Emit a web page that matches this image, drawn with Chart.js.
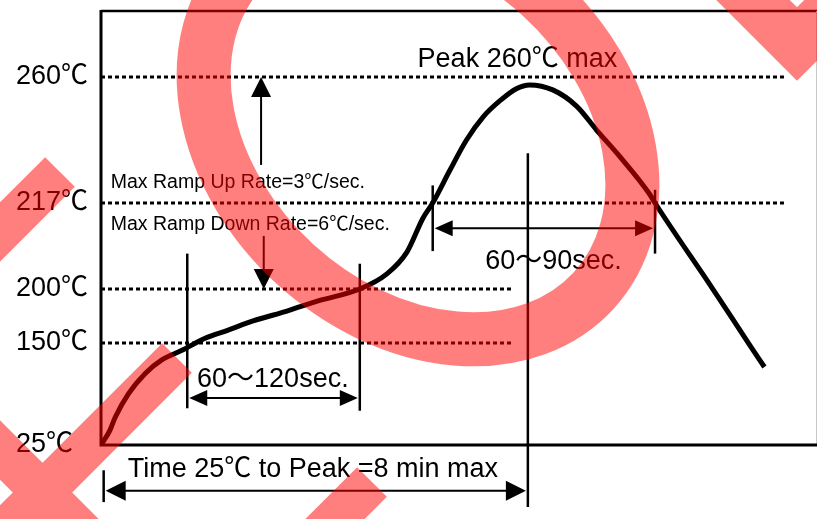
<!DOCTYPE html>
<html>
<head>
<meta charset="utf-8">
<script src="https://cdn.jsdelivr.net/npm/chart.js@4.4.1/dist/chart.umd.min.js"></script>
<style>
  html, body { margin: 0; padding: 0; background: #fff; }
</style>
</head>
<body>
<canvas id="profile" width="817" height="519"></canvas>
<script>
// reflow profile: time in seconds (schematic), temperature in deg C
const profileTime = [0, 10, 16, 31, 50, 68, 91, 117, 143, 171, 209, 246, 291, 321.5, 344, 362, 373, 392, 411, 430, 449, 467, 482, 508, 535, 557, 583, 617, 623, 688, 728, 746];
const profileTemp = [25, 43, 59, 88, 113, 129, 141, 154.4, 162, 170.4, 179.6, 189.4, 200, 203, 207.3, 214, 217, 228, 238.5, 246.5, 252, 256, 257.3, 255.6, 250, 242, 233, 220, 217, 200, 150, 120.6];

const tempTicks = [25, 150, 200, 217, 260];

// dotted reference levels and where they stop
const refTemps = [260, 217, 200, 150];
const refEnds = [768, 768, 463, 463];

// vertical marker lines
const markerTimes = [3, 97, 291, 373, 480, 623];
const markerLow = [-45, 70, 67, 207.5, -51, 207];
const markerHigh = [-6, 207, 205, 223, 234, 221.5];

// double headed span arrows
const spanFrom = [97, 373, 3];
const spanTo = [291, 623, 480];
const spanTemp = [82.6, 212, -31];

// ramp rate arrows (up / down)
const rateTimes = [180, 183];
const rateFrom = [230, 210.5];
const rateTo = [260, 200];

const noteTexts = ['Peak 260℃ max', 'Max Ramp Up Rate=3℃/sec.', 'Max Ramp Down Rate=6℃/sec.', '60～120sec.', '60～90sec.', 'Time 25℃ to Peak =8 min max'];
const noteTimes = [356, 11, 11, 108, 432, 30];
const noteTemps = [266, 224, 212.7, 104.7, 205.5, -5.6];
const noteSizes = [27, 19.5, 19.5, 27, 27, 27];

const FONT = '"Liberation Sans", Arial, "Noto Sans CJK SC", sans-serif';

// y axis of the drawing is not linear, so map through knots (value -> fraction of height)
class PiecewiseScale extends Chart.LinearScale {
    static id = 'piecewise';
    static defaults = Chart.LinearScale.defaults;

    getPixelForValue(value) {
        const k = this.options.knots;
        let i = 0;
        while (i < k.length - 2 && value > k[i + 1][0]) i++;
        const [v0, f0] = k[i];
        const [v1, f1] = k[i + 1];
        const f = f0 + (value - v0) / (v1 - v0) * (f1 - f0);
        return this.bottom - f * (this.bottom - this.top);
    }

    getValueForPixel(pixel) {
        const k = this.options.knots;
        const f = (this.bottom - pixel) / (this.bottom - this.top);
        let i = 0;
        while (i < k.length - 2 && f > k[i + 1][1]) i++;
        const [v0, f0] = k[i];
        const [v1, f1] = k[i + 1];
        return v0 + (f - f0) / (f1 - f0) * (v1 - v0);
    }
}
Chart.register(PiecewiseScale);

function arrowHead(ctx, x, y, dx, dy, len, half) {
    ctx.beginPath();
    ctx.moveTo(x, y);
    ctx.lineTo(x - dx * len - dy * half, y - dy * len + dx * half);
    ctx.lineTo(x - dx * len + dy * half, y - dy * len - dx * half);
    ctx.closePath();
    ctx.fill();
}

const annotations = {
    id: 'annotations',
    beforeDatasetsDraw(chart) {
        const { ctx, chartArea: a } = chart;
        ctx.save();
        ctx.strokeStyle = '#000';
        ctx.lineCap = 'butt';
        // top edge
        ctx.lineWidth = 2.5;
        ctx.beginPath(); ctx.moveTo(a.left, a.top); ctx.lineTo(chart.width, a.top); ctx.stroke();
        // right edge
        ctx.strokeStyle = '#c8c8c8';
        ctx.lineWidth = 1;
        ctx.beginPath(); ctx.moveTo(a.right + 0.5, a.top); ctx.lineTo(a.right + 0.5, a.bottom); ctx.stroke();
        ctx.restore();
    },
    afterDatasetsDraw(chart) {
        const { ctx, chartArea: a } = chart;
        const xs = chart.scales.x, ys = chart.scales.y;
        ctx.save();
        ctx.strokeStyle = '#000';
        ctx.fillStyle = '#000';
        // left and bottom axis lines
        ctx.lineWidth = 3;
        ctx.beginPath();
        ctx.moveTo(a.left, a.top - 1);
        ctx.lineTo(a.left, a.bottom);
        ctx.lineTo(chart.width, a.bottom);
        ctx.stroke();

        ctx.lineWidth = 2.5;
        markerTimes.forEach((t, i) => {
            const x = xs.getPixelForValue(t);
            ctx.beginPath();
            ctx.moveTo(x, ys.getPixelForValue(markerHigh[i]));
            ctx.lineTo(x, ys.getPixelForValue(markerLow[i]));
            ctx.stroke();
        });

        ctx.lineWidth = 2;
        spanFrom.forEach((t, i) => {
            const x1 = xs.getPixelForValue(t) + 2;
            const x2 = xs.getPixelForValue(spanTo[i]) - 2;
            const y = ys.getPixelForValue(spanTemp[i]);
            const len = i === 2 ? 20 : 18, half = i === 2 ? 10 : 8;
            ctx.beginPath(); ctx.moveTo(x1 + 5, y); ctx.lineTo(x2 - 5, y); ctx.stroke();
            arrowHead(ctx, x1, y, -1, 0, len, half);
            arrowHead(ctx, x2, y, 1, 0, len, half);
        });

        rateTimes.forEach((t, i) => {
            const x = xs.getPixelForValue(t);
            const y1 = ys.getPixelForValue(rateFrom[i]);
            const y2 = ys.getPixelForValue(rateTo[i]);
            const dir = y2 < y1 ? -1 : 1;
            ctx.beginPath(); ctx.moveTo(x, y1); ctx.lineTo(x, y2 - dir * 5); ctx.stroke();
            arrowHead(ctx, x, y2, 0, dir, 20, 10);
        });

        ctx.textAlign = 'left';
        ctx.textBaseline = 'middle';
        noteTexts.forEach((txt, i) => {
            ctx.font = noteSizes[i] + 'px ' + FONT;
            ctx.fillText(txt, xs.getPixelForValue(noteTimes[i]), ys.getPixelForValue(noteTemps[i]));
        });
        ctx.restore();
    },
    afterDraw(chart) {
        // red stamp overlay sitting on top of the drawing
        const ctx = chart.ctx;
        ctx.save();
        ctx.strokeStyle = 'rgba(255, 0, 0, 0.5)';
        ctx.lineCap = 'butt';
        ctx.lineJoin = 'miter';
        ctx.lineWidth = 54;
        ctx.beginPath();
        ctx.ellipse(418, 130, 238, 182, 0.74, 0, Math.PI * 2);
        ctx.stroke();

        ctx.lineWidth = 42;
        ctx.beginPath();
        ctx.moveTo(60, 172); ctx.lineTo(-60, 292);
        ctx.moveTo(177, 358); ctx.lineTo(-60, 595);
        ctx.moveTo(-60, 390); ctx.lineTo(150, 600);
        ctx.moveTo(372, 482); ctx.lineTo(280, 574);
        ctx.stroke();

        ctx.lineWidth = 52;
        ctx.beginPath();
        ctx.moveTo(700, -53); ctx.lineTo(797, 44); ctx.lineTo(900, -59);
        ctx.stroke();
        ctx.restore();
    }
};

const datasets = [{
    data: profileTime.map((t, i) => ({ x: t, y: profileTemp[i] })),
    borderColor: '#000',
    borderWidth: 5,
    pointRadius: 0,
    cubicInterpolationMode: 'monotone',
    fill: false
}];
refTemps.forEach((v, i) => {
    datasets.push({
        data: [{ x: 0, y: v }, { x: refEnds[i], y: v }],
        borderColor: '#000',
        borderWidth: 3,
        borderDash: [4, 3],
        borderCapStyle: 'butt',
        pointRadius: 0,
        fill: false
    });
});

new Chart(document.getElementById('profile'), {
    type: 'line',
    data: { datasets },
    options: {
        responsive: false,
        animation: false,
        devicePixelRatio: 1,
        layout: { padding: { left: 16, top: 11, right: 1, bottom: 0 } },
        plugins: { legend: { display: false }, tooltip: { enabled: false } },
        scales: {
            x: {
                type: 'linear',
                min: 0,
                max: 804,
                grid: { display: false },
                border: { display: false },
                ticks: { display: false },
                afterFit(scale) {
                    scale.height = 74;
                    scale.paddingLeft = 0;
                    scale.paddingRight = 0;
                }
            },
            y: {
                type: 'piecewise',
                min: 25,
                max: 282.5,
                knots: [[25, 0], [150, 0.235], [200, 0.3594], [217, 0.5576], [260, 0.8479], [282.5, 1]],
                grid: { display: false },
                border: { display: false },
                afterBuildTicks(scale) { scale.ticks = tempTicks.map(v => ({ value: v })); },
                afterFit(scale) {
                    scale.width = 85;
                    scale.paddingTop = 0;
                    scale.paddingBottom = 0;
                },
                ticks: {
                    crossAlign: 'far',
                    color: '#000',
                    font: { family: FONT, size: 27 },
                    callback: v => v + '℃'
                }
            }
        }
    },
    plugins: [annotations]
});
</script>
</body>
</html>
